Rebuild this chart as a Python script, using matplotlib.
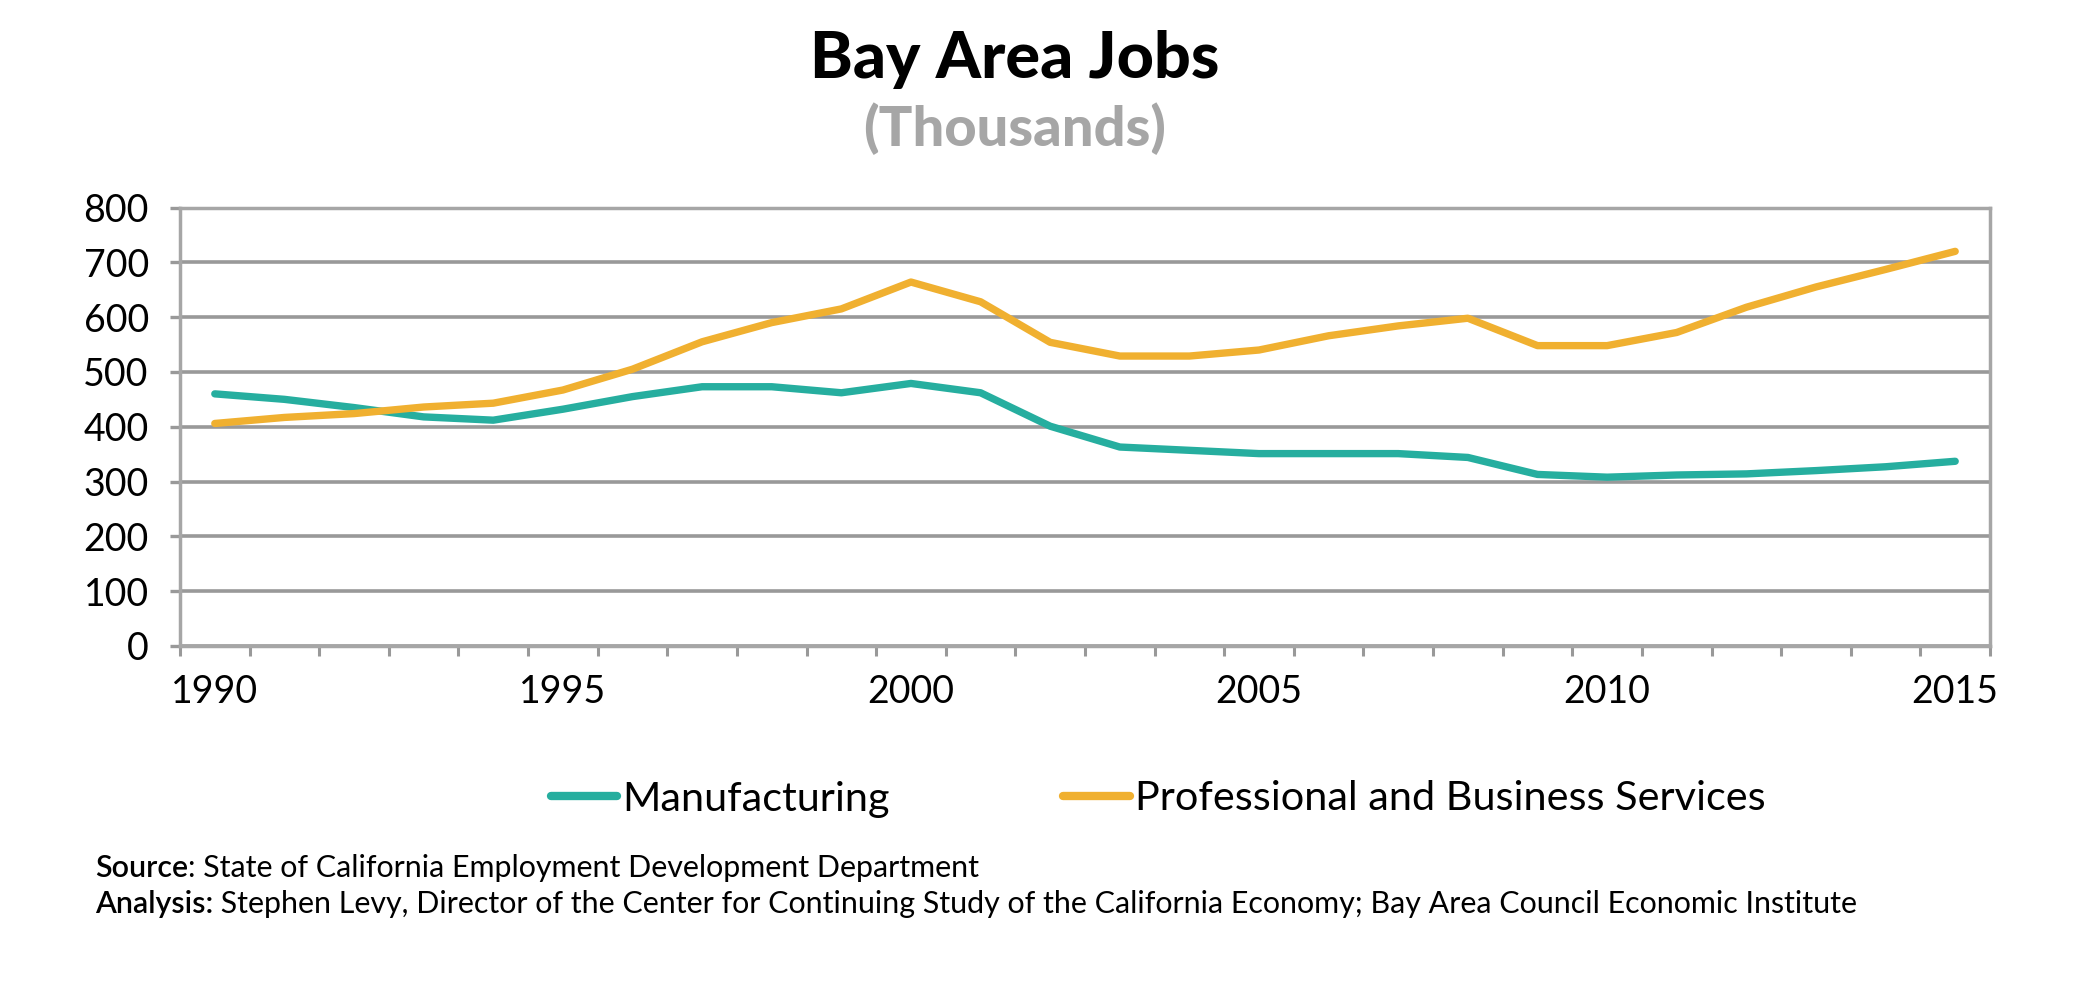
import matplotlib
matplotlib.use("Agg")
import matplotlib.pyplot as plt
from matplotlib.ticker import FixedLocator

years = list(range(1990, 2016))
manufacturing = [460, 450, 435, 418, 412, 432, 455, 473, 473, 462, 479, 462, 401, 363,
                 357, 351, 351, 351, 344, 313, 308, 312, 314, 320, 327, 337]
professional = [406, 417, 424, 436, 443, 467, 505, 555, 590, 615, 664, 628, 554, 529,
                529, 540, 566, 584, 598, 548, 548, 572, 618, 655, 687, 720]
series_names = ["Manufacturing", "Professional and Business Services"]
colors = ["#26AE9F", "#F0B030"]
yticks = [0, 100, 200, 300, 400, 500, 600, 700, 800]
xlabels = [1990, 1995, 2000, 2005, 2010, 2015]

plt.rcParams['font.family'] = ['Lato', 'DejaVu Sans']

fig = plt.figure(figsize=(20.75, 9.94), dpi=100)
ax = fig.add_axes([180/2075, 1-646/994, 1810/2075, 438.5/994])

grid_c = "#999999"
spine_c = "#A6A6A6"

for vals, name, c in zip([manufacturing, professional], series_names, colors):
    ax.plot(years, vals, color=c, lw=5.3, label=name, solid_capstyle='round',
            solid_joinstyle='round', zorder=3)

ax.set_xlim(1989.5, 2015.5)
ax.set_ylim(0, 800)
ax.set_yticks(yticks)
ax.set_xticks(xlabels)
ax.set_xticklabels([str(x) for x in xlabels])
ax.xaxis.set_minor_locator(FixedLocator([y - 0.5 for y in years] + [2015.5]))
ax.tick_params(axis='x', which='major', length=0, pad=20, labelsize=27)
ax.tick_params(axis='x', which='minor', length=7.5, width=2.2, color=grid_c, direction='out')
ax.tick_params(axis='y', which='major', length=7.5, width=2.4, color=grid_c, pad=15, labelsize=27)
ax.yaxis.grid(True, color=grid_c, lw=2.6, zorder=1)
ax.set_axisbelow(True)
for s in ['left', 'bottom', 'right', 'top']:
    ax.spines[s].set_color(spine_c)
    ax.spines[s].set_linewidth(2.5)

fig.text(1015/2075, 1-45*1.3233/994, "Bay Area Jobs", ha='center', va='center',
         fontsize=46.5, fontweight='black', color='black')
fig.text(1015/2075, 1-97*1.3233/994, "(Thousands)", ha='center', va='center',
         fontsize=40.3, fontweight='black', color='#A6A6A6')

leg = fig.legend(loc='center', bbox_to_anchor=(1158/2075, 1-799/994), ncol=2, frameon=False,
                 fontsize=29.8, handlelength=1.6, handletextpad=0.12, columnspacing=4.2)
for line in leg.get_lines():
    line.set_linewidth(6)

fig.canvas.draw()
r = fig.canvas.get_renderer()
fs = 21.9
t1 = fig.text(95/2075, 1-868/994, "Source", ha='left', va='center', fontsize=fs, fontweight='semibold')
bb = t1.get_window_extent(r)
fig.text(bb.x1/2075, 1-868/994, ": State of California Employment Development Department",
         ha='left', va='center', fontsize=fs)
t2 = fig.text(95/2075, 1-904/994, "Analysis:", ha='left', va='center', fontsize=fs, fontweight='semibold')
bb2 = t2.get_window_extent(r)
fig.text(bb2.x1/2075, 1-904/994, " Stephen Levy, Director of the Center for Continuing Study of the California Economy; Bay Area Council Economic Institute",
         ha='left', va='center', fontsize=fs)

fig.savefig("out.png", dpi=100, facecolor='white')
